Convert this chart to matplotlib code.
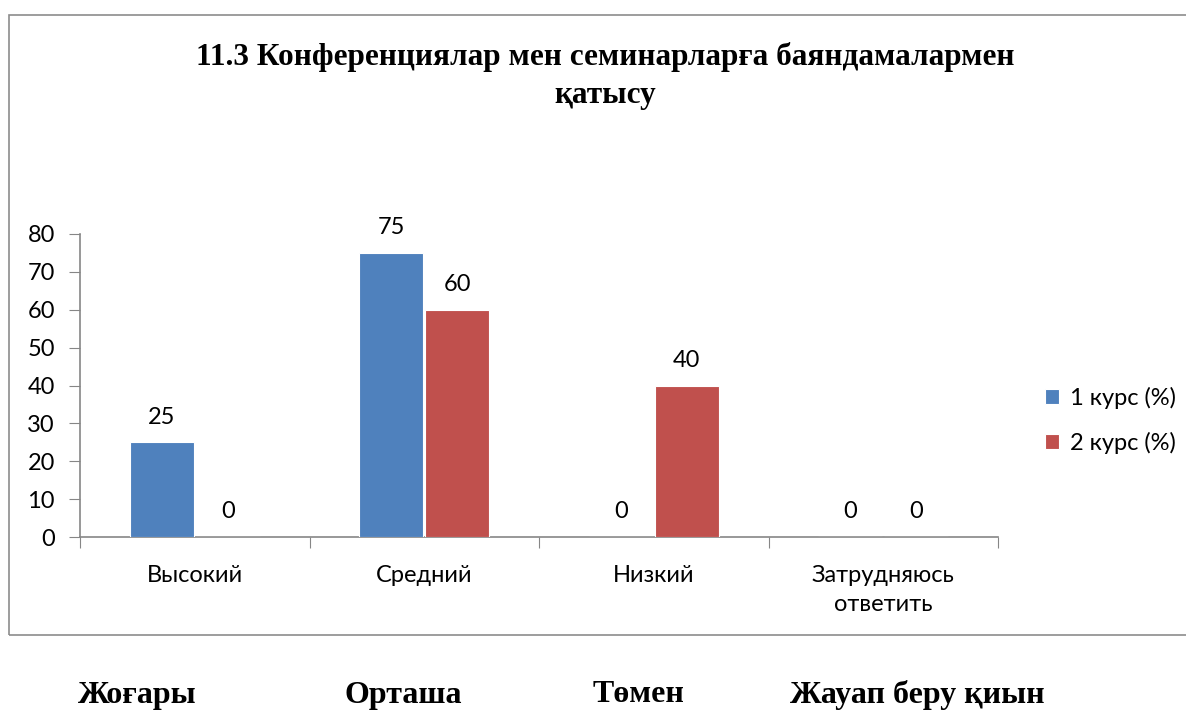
#!/usr/bin/env python3
"""
Grouped bar chart: 11.3 participation in conferences and seminars with reports.
"""
import matplotlib
matplotlib.use('Agg')
import matplotlib.pyplot as plt
from matplotlib.patches import Rectangle
import numpy as np

title = '11.3 Конференциялар мен семинарларға баяндамалармен\nқатысу'
categories = ['Высокий', 'Средний', 'Низкий', 'Затрудняюсь\nответить']
series_names = ['1 курс (%)', '2 курс (%)']
course1 = [25, 75, 0, 0]
course2 = [0, 60, 40, 0]
bottom_labels = ['Жоғары', 'Орташа', 'Төмен', 'Жауап беру қиын']

colors = ['#4F81BD', '#C0504D']
sans = ['Lato', 'DejaVu Sans']
serif = ['Liberation Serif', 'DejaVu Serif']

W, H = 1186, 711
fig = plt.figure(figsize=(W / 100, H / 100), dpi=100)

# outer chart border
fig.patches.append(Rectangle((9 / W, 1 - 635 / H), 1.2, (635 - 15) / H,
                             transform=fig.transFigure, fill=False,
                             edgecolor='#8c8c8c', linewidth=1.2))

ax = fig.add_axes([80 / W, 1 - 537 / H, (998 - 80) / W, (537 - 234) / H])

x = np.arange(len(categories))
width = 0.28
offset = 0.144
for i, (vals, name) in enumerate(zip([course1, course2], series_names)):
    pos = x + (offset if i else -offset)
    ax.bar(pos, vals, width, color=colors[i], edgecolor='white',
           linewidth=0.8, label=name, zorder=3)
    for xp, v in zip(pos, vals):
        ax.annotate(str(v), (xp, v), xytext=(0, 18), textcoords='offset points',
                    ha='center', va='center', fontsize=17, family=sans)

ax.set_xlim(-0.5, len(categories) - 0.5)
ax.set_ylim(0, 80)
ax.set_yticks(range(0, 81, 10))
ax.set_xticks(np.arange(-0.5, len(categories), 1.0))
ax.set_xticklabels([])
ax.tick_params(axis='x', direction='out', length=8, color='#868686')
ax.tick_params(axis='y', direction='out', length=8, color='#868686',
               labelsize=17, pad=10)
for lab in ax.get_yticklabels():
    lab.set_family(sans)
for xc, cat in zip(x, categories):
    ax.text(xc, -7.3, cat, ha='center', va='top', fontsize=17, family=sans,
            linespacing=1.5)

for s in ['top', 'right']:
    ax.spines[s].set_visible(False)
for s in ['left', 'bottom']:
    ax.spines[s].set_color('#868686')
    ax.spines[s].set_linewidth(1.2)

leg = ax.legend(loc='center left', bbox_to_anchor=(1.028, 0.385), frameon=False,
                prop={'family': sans, 'size': 17}, handlelength=0.6,
                handleheight=0.6, handletextpad=0.45, labelspacing=0.95)

fig.text(605 / W, 1 - 76 / H, title, ha='center', va='center', fontsize=22.5,
         fontweight='bold', family=serif, linespacing=1.4)

bottom_x = [78, 345, 593, 790]
for bx, lab in zip(bottom_x, bottom_labels):
    fig.text(bx / W, 1 - 695 / H, lab, ha='left', va='center', fontsize=23,
             fontweight='bold', family=serif)

fig.savefig('out.png', dpi=100)
